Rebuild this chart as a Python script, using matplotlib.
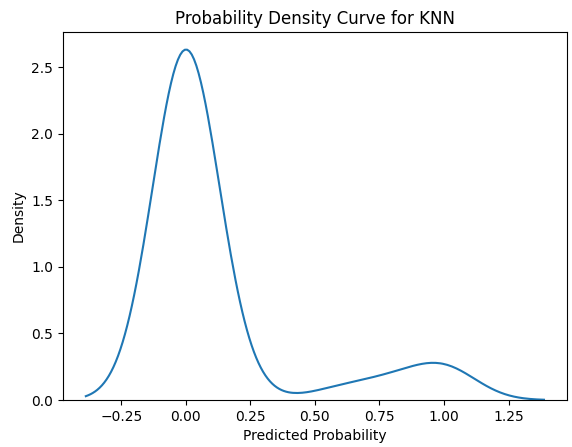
import numpy as np
import matplotlib
matplotlib.use("Agg")
import matplotlib.pyplot as plt
import seaborn as sns

# predicted probabilities from KNN (k=5) and how often each came out
prob_levels = [0.0, 0.2, 0.4, 0.6, 0.8, 1.0]
prob_counts = [67, 1, 0, 2, 3, 6]

y_pred_proba = np.repeat(prob_levels, prob_counts)

fig = plt.figure(figsize=(5.72, 4.47), dpi=100)
ax = fig.add_axes([0.110, 0.105, 0.881, 0.823])
sns.kdeplot(y_pred_proba, ax=ax)
ax.set_title("Probability Density Curve for KNN")
ax.set_xlabel("Predicted Probability")
ax.set_ylabel("Density")
fig.savefig("out.png", dpi=100)
